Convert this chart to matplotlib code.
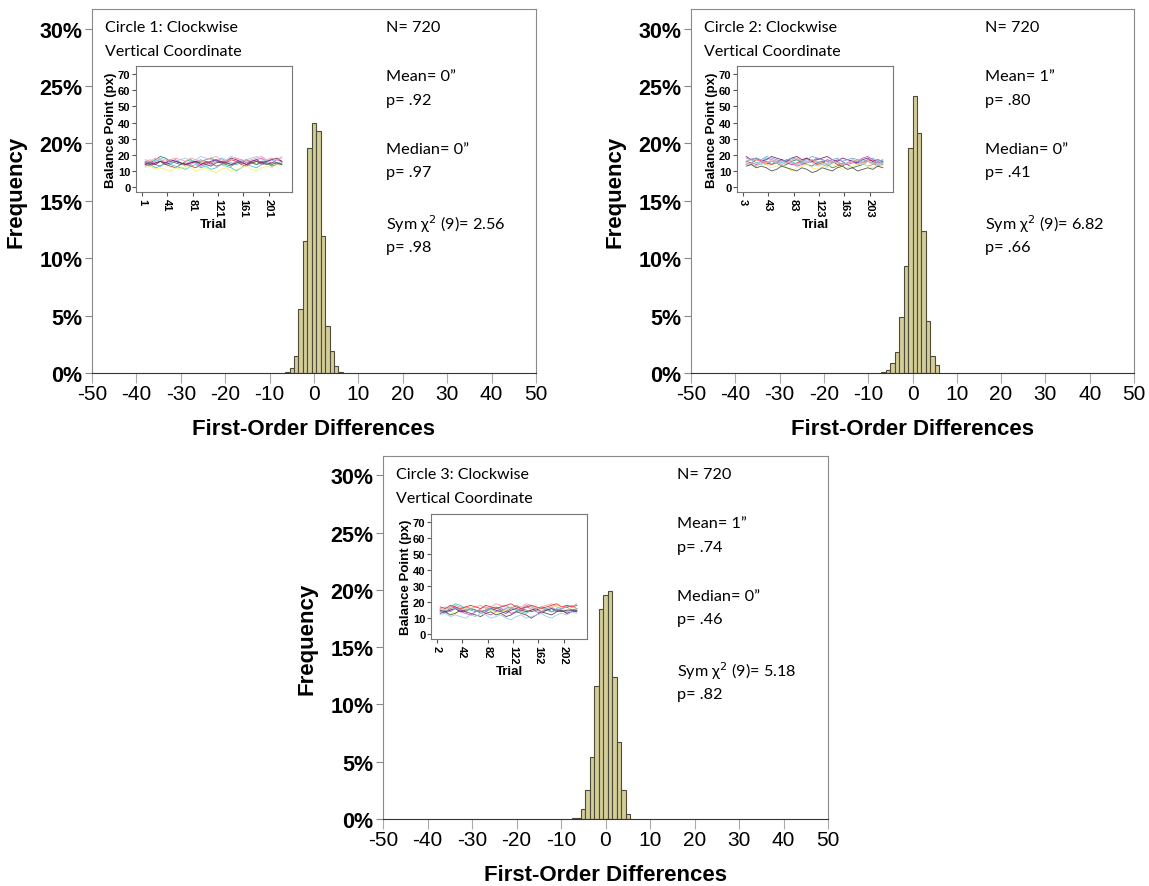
import numpy as np
import matplotlib
matplotlib.use('Agg')
import matplotlib.pyplot as plt
from matplotlib.ticker import FuncFormatter

W, H = 1149, 887

# histogram bins (first-order differences) and percentages, one array per circle
bins1 = [-6, -5, -4, -3, -2, -1, 0, 1, 2, 3, 4, 5, 6]
freq1 = [0.1, 0.4, 1.5, 5.6, 11.5, 19.6, 21.8, 21.1, 11.9, 4.1, 1.9, 0.6, 0.1]

bins2 = [-6.5, -5.5, -4.5, -3.5, -2.5, -1.5, -0.5, 0.5, 1.5, 2.5, 3.5, 4.5, 5.5]
freq2 = [0.1, 0.3, 0.9, 1.8, 4.9, 9.3, 19.6, 24.1, 20.9, 12.4, 4.5, 1.5, 0.7]

bins3 = [-7, -6, -5, -4, -3, -2, -1, 0, 1, 2, 3, 4, 5]
freq3 = [0.1, 0.1, 0.9, 2.5, 5.4, 11.6, 18.3, 19.6, 19.9, 12.4, 6.7, 2.5, 0.4]

titles = ["Circle 1: Clockwise\nVertical Coordinate",
          "Circle 2: Clockwise\nVertical Coordinate",
          "Circle 3: Clockwise\nVertical Coordinate"]
means = ["0", "1", "1"]
mean_p = [".92", ".80", ".74"]
medians = ["0", "0", "0"]
median_p = [".97", ".41", ".46"]
chi = ["2.56", "6.82", "5.18"]
chi_p = [".98", ".66", ".82"]
trial_start = [1, 3, 2]

# inset: balance point traces (px), sampled every 8 trials
bp = [
    [15, 14, 16, 17, 15, 14, 16, 15, 13, 14, 16, 17, 15, 14, 16, 18, 16, 15, 14, 15, 17, 16, 14, 15, 16, 17, 15, 16],
    [14, 13, 15, 16, 14, 13, 12, 14, 15, 13, 12, 14, 16, 15, 13, 14, 15, 17, 16, 14, 13, 15, 16, 14, 15, 13, 14, 15],
    [16, 15, 17, 19, 18, 16, 15, 14, 16, 17, 15, 16, 17, 18, 16, 15, 14, 13, 15, 16, 17, 15, 14, 16, 15, 14, 15, 14],
    [15, 16, 14, 13, 15, 16, 17, 15, 14, 16, 15, 13, 14, 15, 17, 16, 15, 14, 16, 17, 15, 16, 17, 18, 16, 15, 17, 16],
    [13, 14, 12, 13, 15, 14, 13, 12, 11, 13, 14, 12, 13, 11, 12, 14, 13, 12, 10, 12, 14, 13, 12, 14, 15, 13, 14, 15],
    [12, 13, 11, 12, 11, 10, 12, 11, 13, 12, 10, 11, 12, 10, 9, 11, 12, 10, 11, 12, 13, 11, 10, 12, 13, 12, 14, 13],
    [15, 14, 15, 16, 14, 15, 16, 15, 14, 15, 16, 15, 14, 13, 15, 16, 15, 14, 15, 16, 14, 15, 16, 15, 14, 15, 15, 14],
    [16, 17, 16, 18, 17, 15, 16, 17, 18, 16, 17, 19, 18, 17, 16, 18, 17, 19, 18, 16, 17, 18, 19, 17, 16, 18, 17, 19],
    [14, 15, 14, 16, 15, 17, 16, 15, 14, 15, 16, 14, 15, 16, 17, 15, 16, 18, 17, 15, 14, 16, 17, 15, 16, 17, 18, 16],
    [17, 16, 18, 17, 16, 17, 18, 17, 16, 18, 17, 16, 17, 18, 19, 17, 16, 17, 18, 17, 16, 17, 18, 19, 17, 18, 17, 18],
]
line_colors = ['#7aaad5', '#ef3338', '#2e8b57', '#d04ec6', '#48c2c5',
               '#f5f06a', '#555555', '#a6c8ef', '#7c287d', '#f2a1a4']

plt.rcParams['font.family'] = ['Liberation Sans', 'DejaVu Sans']
plt.rcParams['axes.unicode_minus'] = False
note_font = ['Lato', 'DejaVu Sans']

fig = plt.figure(figsize=(W / 100, H / 100), dpi=100)


def frac(left, top, right, bottom):
    return [left / W, 1 - bottom / H, (right - left) / W, (bottom - top) / H]


panels = [
    dict(box=(92, 10, 536, 374), inset=(136, 67, 292, 193)),
    dict(box=(691, 10, 1134, 374), inset=(737, 67, 893, 193)),
    dict(box=(383, 457, 828, 820), inset=(431, 515, 587, 640)),
]
bins = [bins1, bins2, bins3]
freqs = [freq1, freq2, freq3]

for i, p in enumerate(panels):
    l, t, r, b = p['box']
    ax = fig.add_axes(frac(l, t, r, b))
    ax.bar(bins[i], freqs[i], width=1.0, color='#d3ce97',
           edgecolor='#4d4b3a', linewidth=0.8)
    ax.set_xlim(-50, 50)
    ax.set_ylim(0, 31.7)
    ax.set_xticks(np.arange(-50, 51, 10))
    ax.set_yticks([0, 5, 10, 15, 20, 25, 30])
    ax.yaxis.set_major_formatter(FuncFormatter(lambda v, pos: '%d%%' % v))
    for s in ['top', 'right', 'left']:
        ax.spines[s].set_color('#8a8a8a')
    ax.spines['bottom'].set_color('#333333')
    ax.tick_params(axis='x', length=7, color='#aaaaaa', labelsize=15, pad=1)
    ax.tick_params(axis='y', length=5, color='#888888', labelsize=15.5, pad=2)
    for lab in ax.get_yticklabels():
        lab.set_fontweight('bold')
    ax.set_xlabel('First-Order Differences', fontsize=16, fontweight='bold',
                  labelpad=11)
    ax.set_ylabel('Frequency', fontsize=16, fontweight='bold', labelpad=9)

    # annotations
    tx = (l + 13) / W
    nx = (l + 294) / W
    fig.text(tx, 1 - (t + 18) / H, titles[i].split('\n')[0], family=note_font,
             fontsize=11.5, va='center')
    fig.text(tx, 1 - (t + 42) / H, titles[i].split('\n')[1], family=note_font,
             fontsize=11.5, va='center')
    notes = [(18, 'N= 720'),
             (67, 'Mean= %s\u201d' % means[i]),
             (91, 'p= %s' % mean_p[i]),
             (140, 'Median= %s\u201d' % medians[i]),
             (163, 'p= %s' % median_p[i]),
             (214, 'Sym \u03c7$^2$ (9)= %s' % chi[i]),
             (238, 'p= %s' % chi_p[i])]
    for dy, s in notes:
        fig.text(nx, 1 - (t + dy) / H, s, family=note_font, fontsize=11.7,
                 va='center')

    # inset of balance point by trial
    il, it, ir, ib = p['inset']
    ins = fig.add_axes(frac(il, it, ir, ib))
    t0 = trial_start[i]
    trials = t0 + 5 + 8 * np.arange(len(bp[0]))
    for k, series in enumerate(bp):
        ys = series if i != 1 else series[::-1]
        ins.plot(trials, ys, color=line_colors[(k + i) % len(line_colors)],
                 linewidth=0.6)
    ins.set_xlim(t0 - 9.5, t0 + 237)
    ins.set_ylim(-3, 75)
    ins.set_yticks(np.arange(0, 71, 10))
    ins.set_xticks(np.arange(t0, t0 + 201, 40))
    ins.tick_params(axis='both', labelsize=8, length=3, pad=1, color='#555555')
    for lab in ins.get_xticklabels():
        lab.set_rotation(-90)
        lab.set_fontweight('bold')
    for lab in ins.get_yticklabels():
        lab.set_fontweight('bold')
    for s in ins.spines.values():
        s.set_color('#777777')
    ins.set_ylabel('Balance Point (px)', fontsize=9.5, fontweight='bold',
                   labelpad=1)
    ins.set_xlabel('Trial', fontsize=9.5, fontweight='bold', labelpad=1)

fig.savefig('out.png', dpi=100)
